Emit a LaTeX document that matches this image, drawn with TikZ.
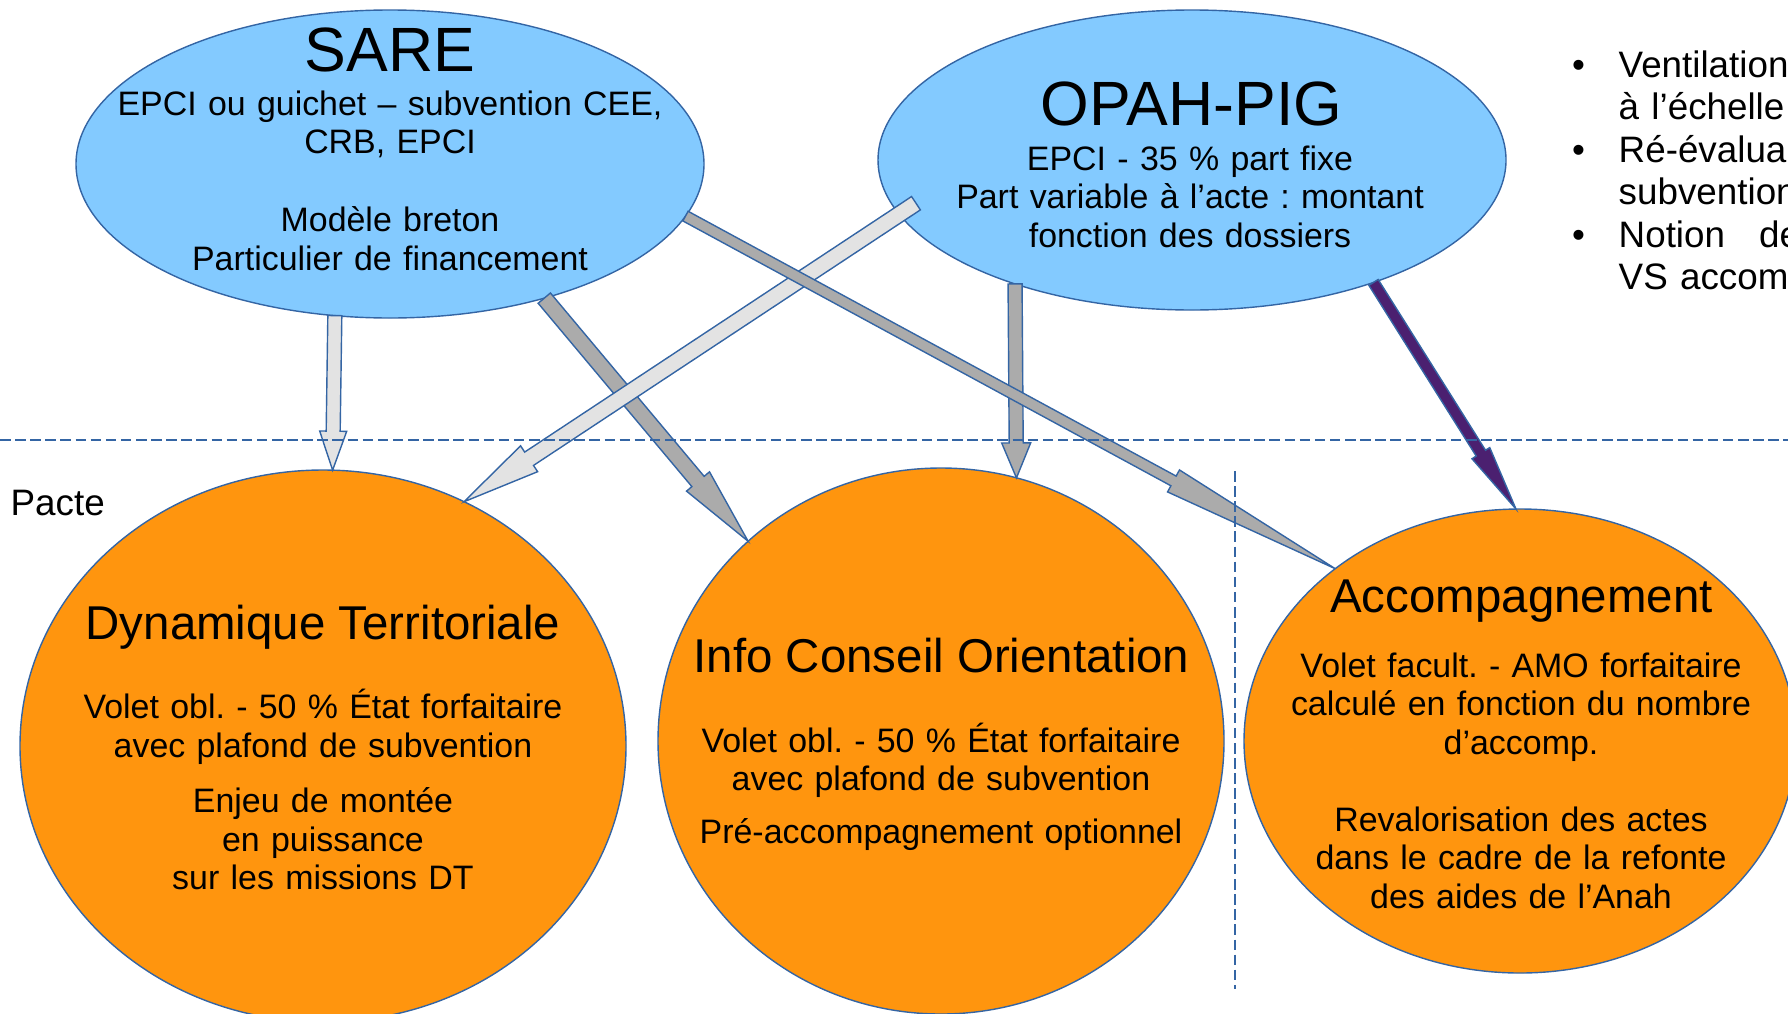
\documentclass[tikz,border=0pt]{standalone}
\usepackage{fontspec}
\setmainfont{Liberation Sans}
\usepackage{tikz}
\usetikzlibrary{calc,shapes.geometric}
\definecolor{bleu}{HTML}{83CAFF}
\definecolor{orangebulle}{HTML}{FF950E}
\definecolor{contour}{HTML}{3465A4}
\definecolor{grisclair}{HTML}{E3E3E3}
\definecolor{grisfonce}{HTML}{ABABAB}
\definecolor{violetfleche}{HTML}{4B2070}
\tikzset{
  bulle/.style={ellipse, draw=contour, line width=0.4pt, inner sep=0pt, outer sep=0pt},
  grand/.style={font=\fontsize{17.8pt}{21pt}\selectfont, anchor=base, inner sep=0pt},
  titre/.style={font=\fontsize{13.5pt}{16pt}\selectfont, anchor=base, inner sep=0pt},
  corps/.style={font=\fontsize{9.65pt}{10.98pt}\selectfont, anchor=base, align=center, text width=6cm, inner sep=0pt},
  puce/.style={font=\fontsize{10.47pt}{11.95pt}\selectfont, anchor=base west, align=left, text width=3cm, inner sep=0pt},
  point/.style={font=\fontsize{10.47pt}{11.95pt}\selectfont, anchor=base, inner sep=0pt},
  tiret/.style={draw=contour, line width=0.45pt, dash pattern=on 3pt off 1.3pt},
  fleche/.style={draw=contour, line width=0.4pt}
}
\newcommand{\blockarrow}[6]{%
  \coordinate (ba-s) at (#1);
  \coordinate (ba-e) at (#2);
  \coordinate (ba-h) at ($(ba-e)!#5!(ba-s)$);
  \filldraw[fleche, fill=#6] ($(ba-s)!#3!90:(ba-e)$) -- ($(ba-h)!#3!90:(ba-e)$)
    -- ($(ba-h)!#4!90:(ba-e)$) -- (ba-e) -- ($(ba-h)!#4!-90:(ba-e)$)
    -- ($(ba-h)!#3!-90:(ba-e)$) -- ($(ba-s)!#3!-90:(ba-e)$) -- cycle;}

\begin{document}
\frenchspacing
\begin{tikzpicture}
\useasboundingbox (0cm,0cm) rectangle (17.88cm,-10.13cm);
\clip (0cm,0cm) rectangle (17.88cm,-10.13cm);

\node[bulle, fill=bleu, minimum width=6.28cm, minimum height=3.08cm] (sare) at (3.90cm,-1.64cm) {};
\node[bulle, fill=bleu, minimum width=6.28cm, minimum height=3.00cm] (opah) at (11.92cm,-1.60cm) {};
\node[bulle, fill=orangebulle, minimum width=6.06cm, minimum height=5.52cm] (dyn) at (3.23cm,-7.46cm) {};
\node[bulle, fill=orangebulle, minimum width=5.66cm, minimum height=5.46cm] (ico) at (9.41cm,-7.41cm) {};
\node[bulle, fill=orangebulle, minimum width=5.52cm, minimum height=4.64cm] (acc) at (15.20cm,-7.41cm) {};

\blockarrow{opah.215}{ico.74}{0.07cm}{0.145cm}{0.35cm}{grisfonce}
\blockarrow{sare.319}{ico.134}{0.08cm}{0.15cm}{0.78cm}{grisfonce}
\blockarrow{[shift={(0.22cm,0.04cm)}]opah.189}{dyn.60}{0.08cm}{0.155cm}{0.78cm}{grisclair}
\blockarrow{sare.350}{acc.137}{0.055cm}{0.125cm}{1.84cm}{grisfonce}
\blockarrow{sare.250}{dyn.88}{0.07cm}{0.135cm}{0.39cm}{grisclair}
\blockarrow{opah.326}{acc.91}{0.055cm}{0.105cm}{0.66cm}{violetfleche}

\draw[tiret] (0cm,-4.40cm) -- (17.88cm,-4.40cm);
\draw[tiret] (12.35cm,-4.71cm) -- (12.35cm,-9.89cm);

\node[grand] (sare-titre) at (3.90cm,-0.71cm) {SARE};
\node[corps] (sare-texte) at (3.90cm,-1.15cm) {EPCI ou guichet – subvention CEE,\\ CRB, EPCI\\[11.2pt] Modèle breton\\ Particulier de financement};
\node[grand] (opah-titre) at (11.915cm,-1.25cm) {OPAH-PIG};
\node[corps] (opah-texte) at (11.90cm,-1.70cm) {EPCI - 35 \% part fixe\\ Part variable à l’acte : montant\\ fonction des dossiers};

\node[titre] (dyn-titre) at (3.23cm,-6.39cm) {Dynamique Territoriale};
\node[corps] (dyn-texte) at (3.23cm,-7.186cm) {Volet obl. - 50 \% État forfaitaire\\ avec plafond de subvention\\[4.8pt] Enjeu de montée\\ en puissance\\ sur les missions DT};
\node[titre] (ico-titre) at (9.415cm,-6.72cm) {Info Conseil Orientation};
\node[corps] (ico-texte) at (9.41cm,-7.52cm) {Volet obl. - 50 \% État forfaitaire\\ avec plafond de subvention\\[4.1pt] Pré-accompagnement optionnel};
\node[titre] (acc-titre) at (15.215cm,-6.12cm) {Accompagnement};
\node[corps] (acc-texte) at (15.21cm,-6.77cm) {Volet facult. - AMO forfaitaire\\ calculé en fonction du nombre\\ d’accomp.\\[10.9pt] Revalorisation des actes\\ dans le cadre de la refonte\\ des aides de l’Anah};

\node[puce] (pacte) at (0.10cm,-5.15cm) {Pacte};

\node[point] (puce1) at (15.785cm,-0.77cm) {\textbullet};
\node[point] (puce2) at (15.785cm,-1.62cm) {\textbullet};
\node[point] (puce3) at (15.785cm,-2.47cm) {\textbullet};
\node[puce] (item1) at (16.18cm,-0.77cm) {Ventilation\\ à l’échelle};
\node[puce] (item2) at (16.18cm,-1.62cm) {Ré-évalua\\ subvention};
\node[puce] (item3) at (16.18cm,-2.47cm) {Notion\hspace{9.7pt}de\\ VS accom};
\end{tikzpicture}
\end{document}
